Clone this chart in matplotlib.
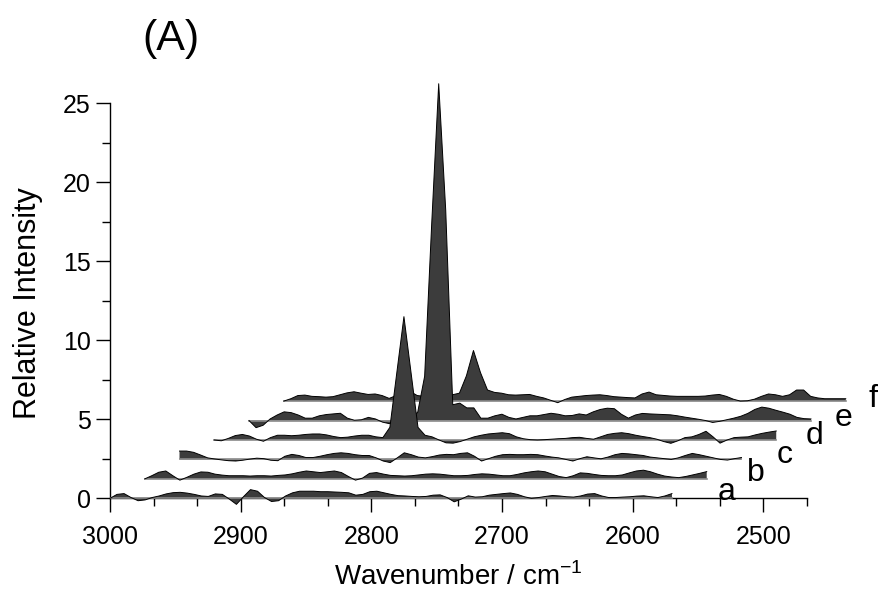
import numpy as np
import matplotlib.pyplot as plt
from matplotlib.ticker import FixedLocator

plt.rcParams['font.family'] = ['Liberation Sans', 'DejaVu Sans']
plt.rcParams['mathtext.fontset'] = 'custom'
plt.rcParams['mathtext.rm'] = 'Liberation Sans'

# wavenumber grid of each spectrum (before the waterfall offset)
wavenumber = np.linspace(3000, 2570, 81)

# relative intensity, front (a) to back (f)
trace_a = [0.0, 0.25, 0.3, 0.05, -0.15, -0.1, 0.05, 0.15, 0.28, 0.36,
           0.38, 0.33, 0.25, 0.15, 0.12, 0.28, 0.25, -0.05, -0.38, 0.1,
           0.55, 0.45, 0.05, -0.2, -0.15, 0.15, 0.35, 0.45, 0.45, 0.45,
           0.42, 0.42, 0.4, 0.38, 0.35, 0.2, 0.25, 0.42, 0.45, 0.35,
           0.25, 0.17, 0.15, 0.12, 0.1, 0.12, 0.2, 0.22, 0.05, -0.22,
           -0.05, 0.16, 0.08, 0.1, 0.2, 0.25, 0.3, 0.34, 0.25, 0.1,
           0.0, 0.05, 0.12, 0.18, 0.15, 0.1, 0.08, 0.15, 0.27, 0.3,
           0.15, 0.05, 0.05, 0.08, 0.1, 0.14, 0.16, 0.1, 0.05, 0.15, 0.3]
trace_b = [0.0, 0.2, 0.42, 0.5, 0.2, -0.08, 0.1, 0.3, 0.44, 0.42,
           0.3, 0.24, 0.2, 0.2, 0.2, 0.18, 0.2, 0.2, 0.18, 0.22,
           0.25, 0.32, 0.42, 0.5, 0.45, 0.4, 0.45, 0.5, 0.4, 0.15,
           -0.08, 0.05, 0.35, 0.4, 0.3, 0.22, 0.2, 0.18, 0.2, 0.25,
           0.3, 0.32, 0.3, 0.25, 0.2, 0.2, 0.22, 0.28, 0.32, 0.3,
           0.25, 0.2, 0.2, 0.28, 0.38, 0.45, 0.5, 0.45, 0.3, 0.15,
           0.08, 0.2, 0.38, 0.35, 0.28, 0.22, 0.2, 0.2, 0.25, 0.38,
           0.5, 0.55, 0.45, 0.3, 0.18, 0.12, 0.08, 0.15, 0.25, 0.35, 0.46]
trace_c = [0.53, 0.53, 0.45, 0.28, 0.1, 0.03, -0.03, -0.08, -0.1, -0.05,
           0.02, 0.08, 0.05, -0.05, -0.08, 0.2, 0.32, 0.25, 0.12, 0.12,
           0.2, 0.3, 0.38, 0.42, 0.38, 0.3, 0.25, 0.25, 0.1, -0.1,
           -0.2, 0.1, 0.42, 0.3, 0.15, 0.1, 0.18, 0.28, 0.32, 0.3,
           0.38, 0.42, 0.2, -0.1, 0.05, 0.2, 0.3, 0.32, 0.3, 0.3,
           0.32, 0.3, 0.22, 0.15, 0.1, 0.0, -0.1, 0.05, 0.17, 0.1,
           0.04, 0.15, 0.3, 0.38, 0.35, 0.3, 0.25, 0.15, 0.1, 0.05,
           0.0, 0.1, 0.25, 0.38, 0.3, 0.2, 0.1, 0.0, -0.04, 0.05, 0.12]
trace_d = [0.0, -0.05, 0.1, 0.28, 0.35, 0.25, 0.05, -0.08, 0.15, 0.3,
           0.3, 0.27, 0.3, 0.35, 0.38, 0.38, 0.32, 0.22, 0.15, 0.18,
           0.25, 0.3, 0.3, 0.2, 0.15, 0.8, 4.3, 7.8, 4.3, 0.8,
           0.3, 0.2, 0.0, -0.18, -0.2, -0.1, 0.05, 0.2, 0.3, 0.38,
           0.42, 0.46, 0.4, 0.2, 0.08, 0.02, 0.0, 0.02, 0.05, 0.08,
           0.1, 0.15, 0.17, 0.1, 0.05, 0.2, 0.35, 0.42, 0.46, 0.4,
           0.3, 0.22, 0.15, 0.05, -0.1, -0.21, -0.05, 0.15, 0.2, 0.35,
           0.55, 0.2, -0.2, 0.0, 0.15, 0.18, 0.2, 0.32, 0.42, 0.5, 0.57]
trace_e = [0.0, -0.45, -0.3, 0.1, 0.35, 0.55, 0.5, 0.35, 0.15, 0.15,
           0.3, 0.38, 0.42, 0.46, 0.15, 0.02, 0.05, 0.2, 0.1, -0.1,
           -0.2, 0.0, 0.1, 0.3, 0.5, 2.8, 12.4, 21.3, 13.3, 1.0,
           1.1, 0.8, 0.8, 0.15, 0.15, 0.3, 0.4, 0.2, 0.1, 0.2,
           0.3, 0.3, 0.38, 0.46, 0.4, 0.3, 0.32, 0.42, 0.35, 0.55,
           0.7, 0.78, 0.75, 0.4, 0.15, 0.35, 0.45, 0.42, 0.4, 0.38,
           0.36, 0.3, 0.22, 0.15, 0.08, 0.0, -0.12, -0.05, 0.05, 0.15,
           0.27, 0.45, 0.7, 0.85, 0.78, 0.65, 0.53, 0.4, 0.2, 0.12, 0.1]
trace_f = [0.0, 0.15, 0.35, 0.38, 0.3, 0.28, 0.25, 0.28, 0.4, 0.52,
           0.59, 0.5, 0.42, 0.45, 0.35, 0.17, 0.35, 0.52, 0.6, 0.35,
           0.3, 0.3, 0.3, 0.35, 0.4, 0.5, 1.6, 3.2, 1.8, 0.7,
           0.55, 0.5, 0.4, 0.38, 0.4, 0.42, 0.3, 0.2, 0.05, -0.1,
           0.1, 0.25, 0.3, 0.35, 0.38, 0.4, 0.35, 0.28, 0.25, 0.22,
           0.2, 0.45, 0.57, 0.4, 0.36, 0.32, 0.3, 0.3, 0.3, 0.3,
           0.32, 0.38, 0.42, 0.3, 0.12, 0.0, 0.02, 0.12, 0.3, 0.45,
           0.4, 0.3, 0.4, 0.7, 0.7, 0.3, 0.2, 0.15, 0.15, 0.15, 0.15]

traces = [trace_a, trace_b, trace_c, trace_d, trace_e, trace_f]
labels = ['a', 'b', 'c', 'd', 'e', 'f']

# waterfall offsets
dx = 26.6
dy = 1.23

fig = plt.figure(figsize=(8.82, 5.94), dpi=100)
ax = fig.add_axes([0.1247, 0.1291, 0.8594, 0.764])

n = len(traces)
for k in reversed(range(n)):
    x = wavenumber - k * dx
    y0 = k * dy
    y = y0 + np.array(traces[k])
    z = 3 + (n - k) * 3
    ax.fill_between(x, y0, y, facecolor='#3c3c3c', edgecolor='none',
                    linewidth=0, zorder=z)
    ax.plot([x[0], x[-1]], [y0, y0], color='#8a8a8a', lw=1.2, zorder=z + 1)
    ax.plot(x, y, color='black', lw=0.7, zorder=z + 2)

for k, lab in enumerate(labels):
    ax.text(2528 - 22.3 * k, -0.1 + 1.17 * k, lab, fontsize=23,
            ha='center', va='baseline', clip_on=False)

ax.set_xlim(3000, 2420)
ax.set_ylim(-1.2, 27.5)

for s in ['top', 'right']:
    ax.spines[s].set_visible(False)
ax.spines['bottom'].set_position(('data', 0))
ax.spines['bottom'].set_bounds(3000 - 1600 / 3, 3000)
ax.spines['left'].set_bounds(0, 25)
ax.spines['bottom'].set_linewidth(1.0)
ax.spines['left'].set_linewidth(1.0)

ax.xaxis.set_major_locator(FixedLocator([3000, 2900, 2800, 2700, 2600, 2500]))
ax.xaxis.set_minor_locator(FixedLocator(
    [3000 - 100 / 3 * j for j in range(1, 17) if j % 3]))
ax.yaxis.set_major_locator(FixedLocator([0, 5, 10, 15, 20, 25]))
ax.yaxis.set_minor_locator(FixedLocator([2.5, 7.5, 12.5, 17.5, 22.5]))

ax.tick_params(which='major', direction='out', length=10, width=1.0,
               labelsize=18)
ax.tick_params(which='minor', direction='out', length=5.5, width=1.0)
ax.tick_params(axis='x', which='major', pad=9)
ax.tick_params(axis='y', which='major', pad=4)

fig.text(458 / 882, 1 - 585 / 594, r'Wavenumber / cm$^{\mathregular{-1}}$',
         fontsize=20, ha='center', va='baseline')
fig.text(28 / 882, 1 - 303 / 594, 'Relative Intensity', fontsize=22,
         rotation=90, ha='center', va='center')
fig.text(171 / 882, 1 - 39 / 594, '(A)', fontsize=31, ha='center',
         va='center')

fig.savefig('out.png', dpi=100)
